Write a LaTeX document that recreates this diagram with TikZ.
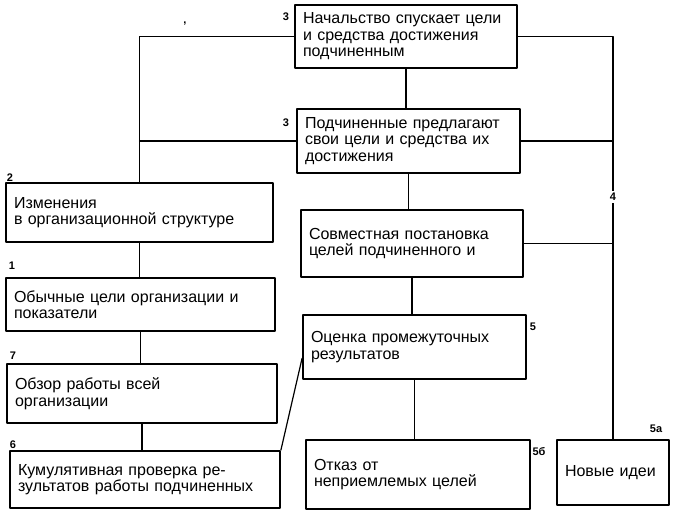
\documentclass[tikz,border=0pt]{standalone}
\usepackage{fontspec}
\setmainfont{Liberation Sans}
\usetikzlibrary{calc}

\begin{document}
\begin{tikzpicture}[x=1pt,y=-1pt,line cap=round,line join=round]
\path[fill=white] (0,0) rectangle (677,518);
\tikzset{stage/.style={draw=black,line width=1.8pt,inner xsep=8pt,inner ysep=2pt,align=left,font=\fontsize{16}{16.5}\selectfont},link/.style={draw=black,line width=1.2pt},num/.style={font=\fontsize{11}{12}\selectfont\bfseries,inner sep=1pt}}
% boxes of the right column
\node[stage,minimum width=222pt,minimum height=63pt,text width=206pt] (boss) at (406,36.5) {Начальство спускает цели\\и средства достижения\\подчиненным};
\node[stage,minimum width=223pt,minimum height=64pt,text width=207pt] (subs) at (408.5,141) {Подчиненные предлагают\\свои цели и средства их\\достижения};
\node[stage,minimum width=222pt,minimum height=67pt,text width=206pt] (joint) at (412,243.5) {Совместная постановка\\целей подчиненного и};
\node[stage,minimum width=223pt,minimum height=64pt,text width=207pt] (interim) at (414.5,347) {Оценка промежуточных\\результатов};
\node[stage,minimum width=224pt,minimum height=69pt,text width=208pt] (reject) at (418,474.5) {Отказ от\\неприемлемых целей};
\node[stage,minimum width=112pt,minimum height=65pt,text width=96pt] (ideas) at (613,472.5) {Новые идеи};
% boxes of the left column
\node[stage,minimum width=267pt,minimum height=59pt,text width=251pt] (struct) at (139.5,212.5) {Изменения\\в организационной структуре};
\node[stage,minimum width=269pt,minimum height=53pt,text width=253pt] (usual) at (140.5,304.5) {Обычные цели организации и\\показатели};
\node[stage,minimum width=270pt,minimum height=59pt,text width=254pt] (review) at (142,393.5) {Обзор работы всей\\организации};
\node[stage,minimum width=270pt,minimum height=57pt,text width=254pt] (cumul) at (145,479.5) {Кумулятивная проверка ре-\\зультатов работы подчиненных};
% connectors
\draw[link] (boss.west) -| (struct.north);
\draw[link] (subs.west) -- (subs.west -| struct.north);
\draw[link] (boss.south) -- (boss.south |- subs.north);
\draw[link] (subs.south) -- (subs.south |- joint.north);
\draw[link] (joint.south) -- (joint.south |- interim.north);
\draw[link] (interim.south) -- (interim.south |- reject.north);
\draw[link] (struct.south) -- (struct.south |- usual.north);
\draw[link] (usual.south) -- (usual.south |- review.north);
\draw[link] (review.south) -- (review.south |- cumul.north);
\draw[link] (boss.east) -| (ideas.north);
\draw[link] (subs.east) -- (subs.east -| ideas.north);
\draw[link] (joint.east) -- (joint.east -| ideas.north);
\draw[link] ($(interim.north west)!0.67!(interim.south west)$) -- (cumul.north east);
% numbers
\node[num] at (286,17) {3};
\node[num] at (286,123) {3};
\node[num] at (185,24) {,};
\node[num] at (10,178) {2};
\node[num] at (12,266) {1};
\node[num] at (13,356) {7};
\node[num] at (13,445) {6};
\node[num] at (533,327) {5};
\node[num] at (539,452) {5б};
\node[num] at (656,429) {5а};
\node[num,fill=white,inner sep=2.5pt] at (613,197) {4};
\end{tikzpicture}
\end{document}
